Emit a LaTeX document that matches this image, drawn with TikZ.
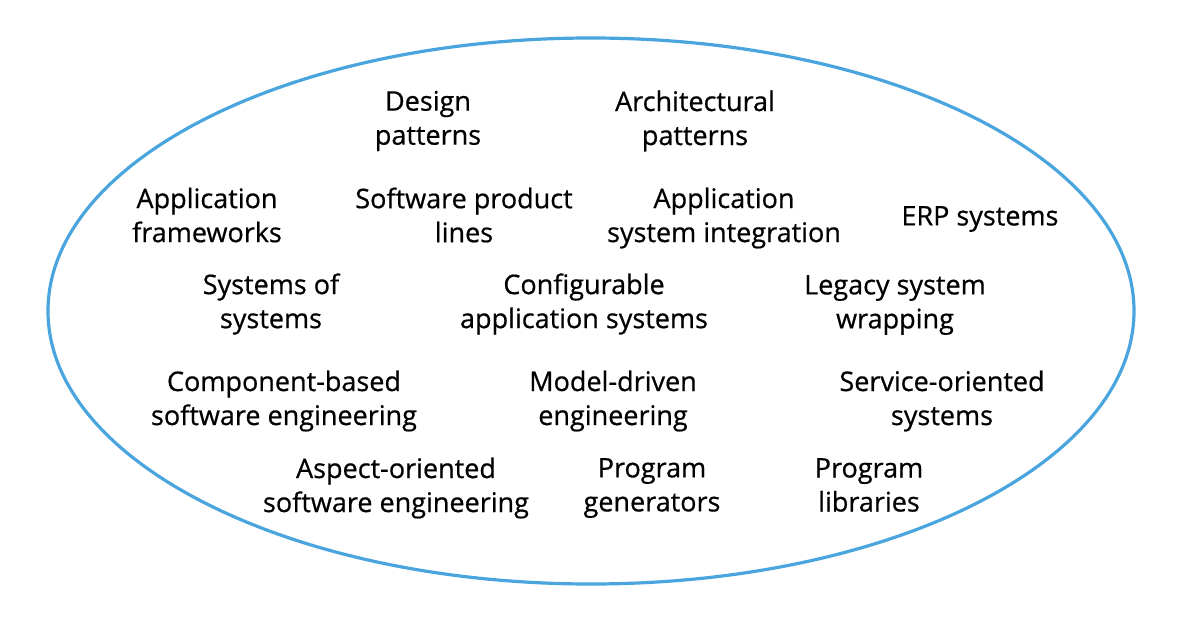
\documentclass[tikz,border=0pt]{standalone}
\usepackage{fontspec}
\setmainfont{Open Sans}[FakeBold=0.6]
\definecolor{ovalblue}{RGB}{74,165,222}
\tikzset{approach/.style={align=center, inner sep=0pt, font=\fontsize{27}{34}\selectfont}}
\begin{document}
\begin{tikzpicture}[x=1pt,y=-1pt]
        \useasboundingbox (0,0) rectangle (1180,618);
        \draw[ovalblue, line width=3.2pt] (591,311) ellipse [x radius=543, y radius=273];
        \node[approach] (DP) at (428,121) {Design\\patterns};
        \node[approach] (AP) at (695,121) {Architectural\\patterns};
        \node[approach] (AF) at (207,215) {Application\\frameworks};
        \node[approach] (SPL) at (464,215) {Software product\\lines};
        \node[approach] (ASI) at (724,218) {Application\\system integration};
        \node[approach] (ERP) at (980,219) {ERP systems};
        \node[approach] (SOS) at (271,304) {Systems of\\systems};
        \node[approach] (CAS) at (584,304) {Configurable\\application systems};
        \node[approach] (LSW) at (895,305) {Legacy system\\wrapping};
        \node[approach] (CBSE) at (284,401) {Component-based\\software engineering};
        \node[approach] (MDE) at (613,401) {Model-driven\\engineering};
        \node[approach] (SOA) at (942,401) {Service-oriented\\systems};
        \node[approach] (AOSE) at (396,488) {Aspect-oriented\\software engineering};
        \node[approach] (PG) at (652,488) {Program\\generators};
        \node[approach] (PL) at (869,485) {Program\\libraries};
\end{tikzpicture}
\end{document}
